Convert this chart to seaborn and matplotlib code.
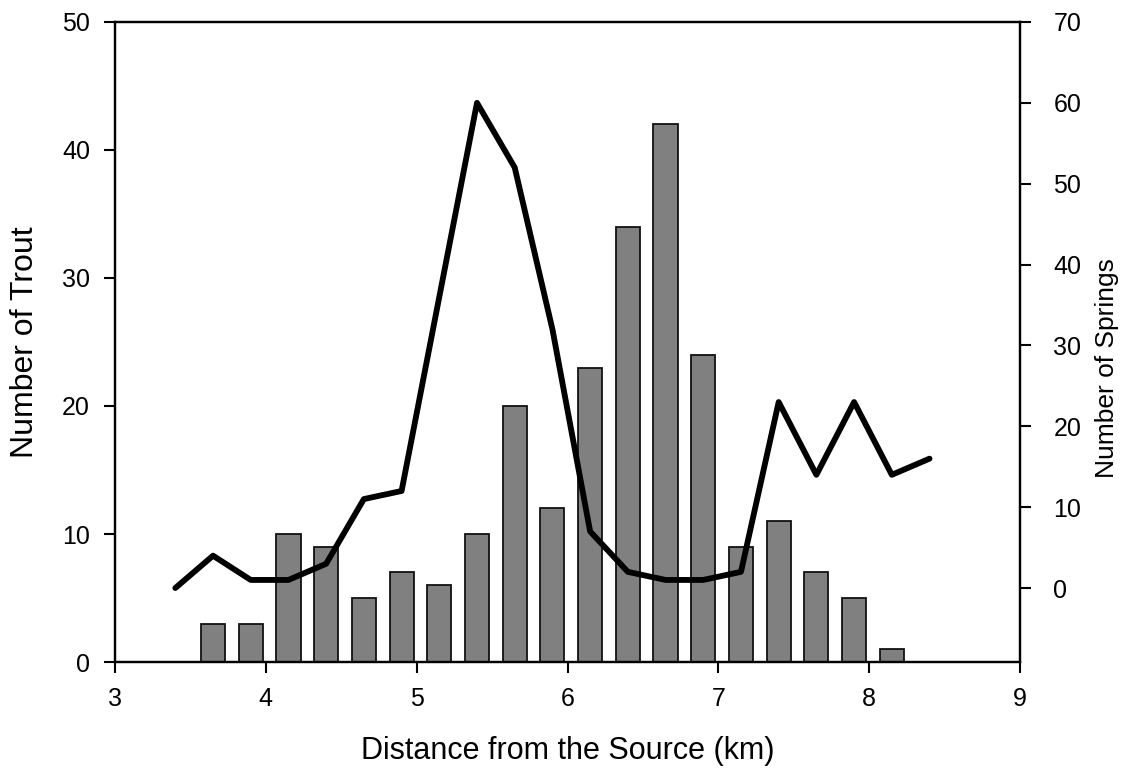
import matplotlib
matplotlib.use("Agg")
import matplotlib.pyplot as plt
import seaborn as sns
import numpy as np
import pandas as pd

# Data
bar_distance_km = [3.65, 3.9, 4.15, 4.4, 4.65, 4.9, 5.15, 5.4, 5.65, 5.9,
                   6.15, 6.4, 6.65, 6.9, 7.15, 7.4, 7.65, 7.9, 8.15]
trout_counts = [3, 3, 10, 9, 5, 7, 6, 10, 20, 12,
                23, 34, 42, 24, 9, 11, 7, 5, 1]

line_distance_km = [3.4, 3.65, 3.9, 4.15, 4.4, 4.65, 4.9, 5.15, 5.4, 5.65,
                    5.9, 6.15, 6.4, 6.65, 6.9, 7.15, 7.4, 7.65, 7.9, 8.15, 8.4]
spring_counts = [0, 4, 1, 1, 3, 11, 12, 36, 60, 52,
                 32, 7, 2, 1, 1, 2, 23, 14, 23, 14, 16]

x_ticks = [3, 4, 5, 6, 7, 8, 9]
left_ticks = [0, 10, 20, 30, 40, 50]
right_ticks = [0, 10, 20, 30, 40, 50, 60, 70]

sns.set_theme(style="ticks")
plt.rcParams["font.family"] = ["Liberation Sans", "DejaVu Sans"]
plt.rcParams["text.color"] = "black"
plt.rcParams["axes.labelcolor"] = "black"
plt.rcParams["xtick.color"] = "black"
plt.rcParams["ytick.color"] = "black"

fig = plt.figure(figsize=(11.25, 7.68), dpi=100)
ax = fig.add_axes([0.1022, 0.138, 0.8045, 0.8334])

bars_df = pd.DataFrame({"x": bar_distance_km, "y": trout_counts})
ax.bar(bars_df["x"], bars_df["y"], width=0.16, color="#808080",
       edgecolor="#111111", linewidth=1.3, zorder=2)

ax.set_xlim(3, 9)
ax.set_ylim(0, 50)
ax.set_xticks(x_ticks)
ax.set_yticks(left_ticks)
ax.tick_params(axis="both", labelsize=18, length=8, width=1.5,
               direction="out", pad=10)
for s in ax.spines.values():
    s.set_linewidth(1.6)
    s.set_color("black")

ax2 = ax.twinx()
lines_df = pd.DataFrame({"x": line_distance_km, "y": spring_counts})
sns.lineplot(data=lines_df, x="x", y="y", ax=ax2, color="black",
             linewidth=4.2, zorder=3)
ax2.set_ylim(-9.15, 70)
ax2.set_yticks(right_ticks)
ax2.set_ylabel("Number of Springs", fontsize=19)
ax2.set_xlabel("")
ax2.tick_params(axis="y", labelsize=18, length=8, width=1.5,
                direction="out", pad=16)
ax2.yaxis.set_label_coords(1.083, 0.46)
for s in ax2.spines.values():
    s.set_linewidth(1.6)
    s.set_color("black")
ax.set_xlim(3, 9)
ax.set_xlabel("Distance from the Source (km)", fontsize=22, labelpad=18)
ax.set_ylabel("Number of Trout", fontsize=23, labelpad=16)

fig.savefig("out.png", dpi=100)
